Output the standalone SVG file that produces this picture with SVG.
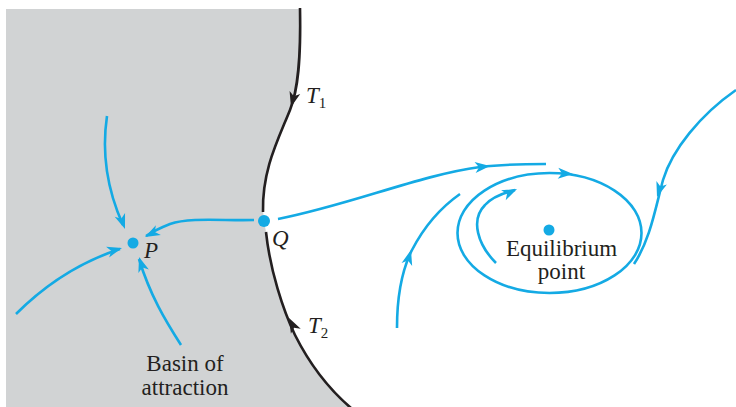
<svg xmlns="http://www.w3.org/2000/svg" width="736" height="407" viewBox="0 0 736 407">
<style>
.b{fill:none;stroke:#14aae4;stroke-width:2.6;stroke-linecap:butt}
.k{fill:none;stroke:#231f20;stroke-width:2.6}
.t{font-family:"Liberation Serif",serif;font-size:23px;fill:#231f20}
.i{font-style:italic}
.s{font-size:15px}
</style>
<defs>
<path id="ah" d="M0,0 L-15,-5.5 L-11,0 L-15,5.5 Z"/>
</defs>
<rect width="736" height="407" fill="#fff"/>
<g id="basin">
<path d="M6,9 L300,9 C301,60 298,90 290,110 C278,140 262,170 263,210 L264,221 L266,232 C270,270 283,310 295,335 C310,365 330,390 350,407 L6,407 Z" fill="#d1d3d4"/>
</g>
<g id="connectors">
<path class="k" d="M300,8 C301,60 298,90 290,110 C278,140 262,170 263,212"/>
<path class="k" d="M266,232 C270,270 283,310 295,335 C310,365 330,390 351,408"/>
<use href="#ah" fill="#231f20" transform="translate(291,107) rotate(105)"/>
<use href="#ah" fill="#231f20" transform="translate(289,318) rotate(243)"/>
<path class="b" d="M107,116 C102,150 105,185 123,225"/>
<path class="b" d="M254,220 C225,221 190,217 170,224 C160,228 152,232 146,236"/>
<path class="b" d="M16,314 C45,285 80,262 120,249"/>
<path class="b" d="M181,345 C165,320 150,295 139,259"/>
<use href="#ah" fill="#14aae4" transform="translate(125,229) rotate(70)"/>
<use href="#ah" fill="#14aae4" transform="translate(145,237) rotate(153)"/>
<use href="#ah" fill="#14aae4" transform="translate(122,248) rotate(-16)"/>
<use href="#ah" fill="#14aae4" transform="translate(139,257) rotate(-108)"/>
<path class="b" d="M278,219 C350,205 420,175 480,167 C505,164 525,164 546,164"/>
<use href="#ah" fill="#14aae4" transform="translate(490,166) rotate(-6)"/>
<ellipse class="b" cx="549.5" cy="233" rx="92" ry="60"/>
<use href="#ah" fill="#14aae4" transform="translate(573,174) rotate(3)"/>
<path class="b" d="M736,90 C700,115 672,150 663,180 C655,210 650,240 634,264"/>
<use href="#ah" fill="#14aae4" transform="translate(657,197) rotate(108)"/>
<path class="b" d="M496,263 C478,245 470,220 485,205 C492,197 503,193 515,190"/>
<use href="#ah" fill="#14aae4" transform="translate(517,189) rotate(-25)"/>
<path class="b" d="M397,328 C397,295 402,270 412,250 C425,225 440,208 460,194"/>
<use href="#ah" fill="#14aae4" transform="translate(411,250) rotate(-74)"/>
</g>
<g id="P">
<circle cx="133" cy="243" r="5.5" fill="#14aae4"/>
<text class="t i" x="144" y="258">P</text>
</g>
<g id="Q">
<circle cx="264" cy="221" r="6" fill="#14aae4"/>
<text class="t i" x="272" y="246">Q</text>
</g>
<g id="T1">
<text class="t i" x="306" y="103">T<tspan class="s" dy="5" font-style="normal">1</tspan></text>
</g>
<g id="T2">
<text class="t i" x="308" y="333">T<tspan class="s" dy="5" font-style="normal">2</tspan></text>
</g>
<g id="basin-label">
<text class="t" x="185" y="371" text-anchor="middle">Basin of</text>
<text class="t" x="185" y="395" text-anchor="middle">attraction</text>
</g>
<g id="equilibrium">
<circle cx="549" cy="230" r="5.5" fill="#14aae4"/>
<text class="t" x="561.5" y="256" text-anchor="middle">Equilibrium</text>
<text class="t" x="561.5" y="279" text-anchor="middle">point</text>
</g>
</svg>
